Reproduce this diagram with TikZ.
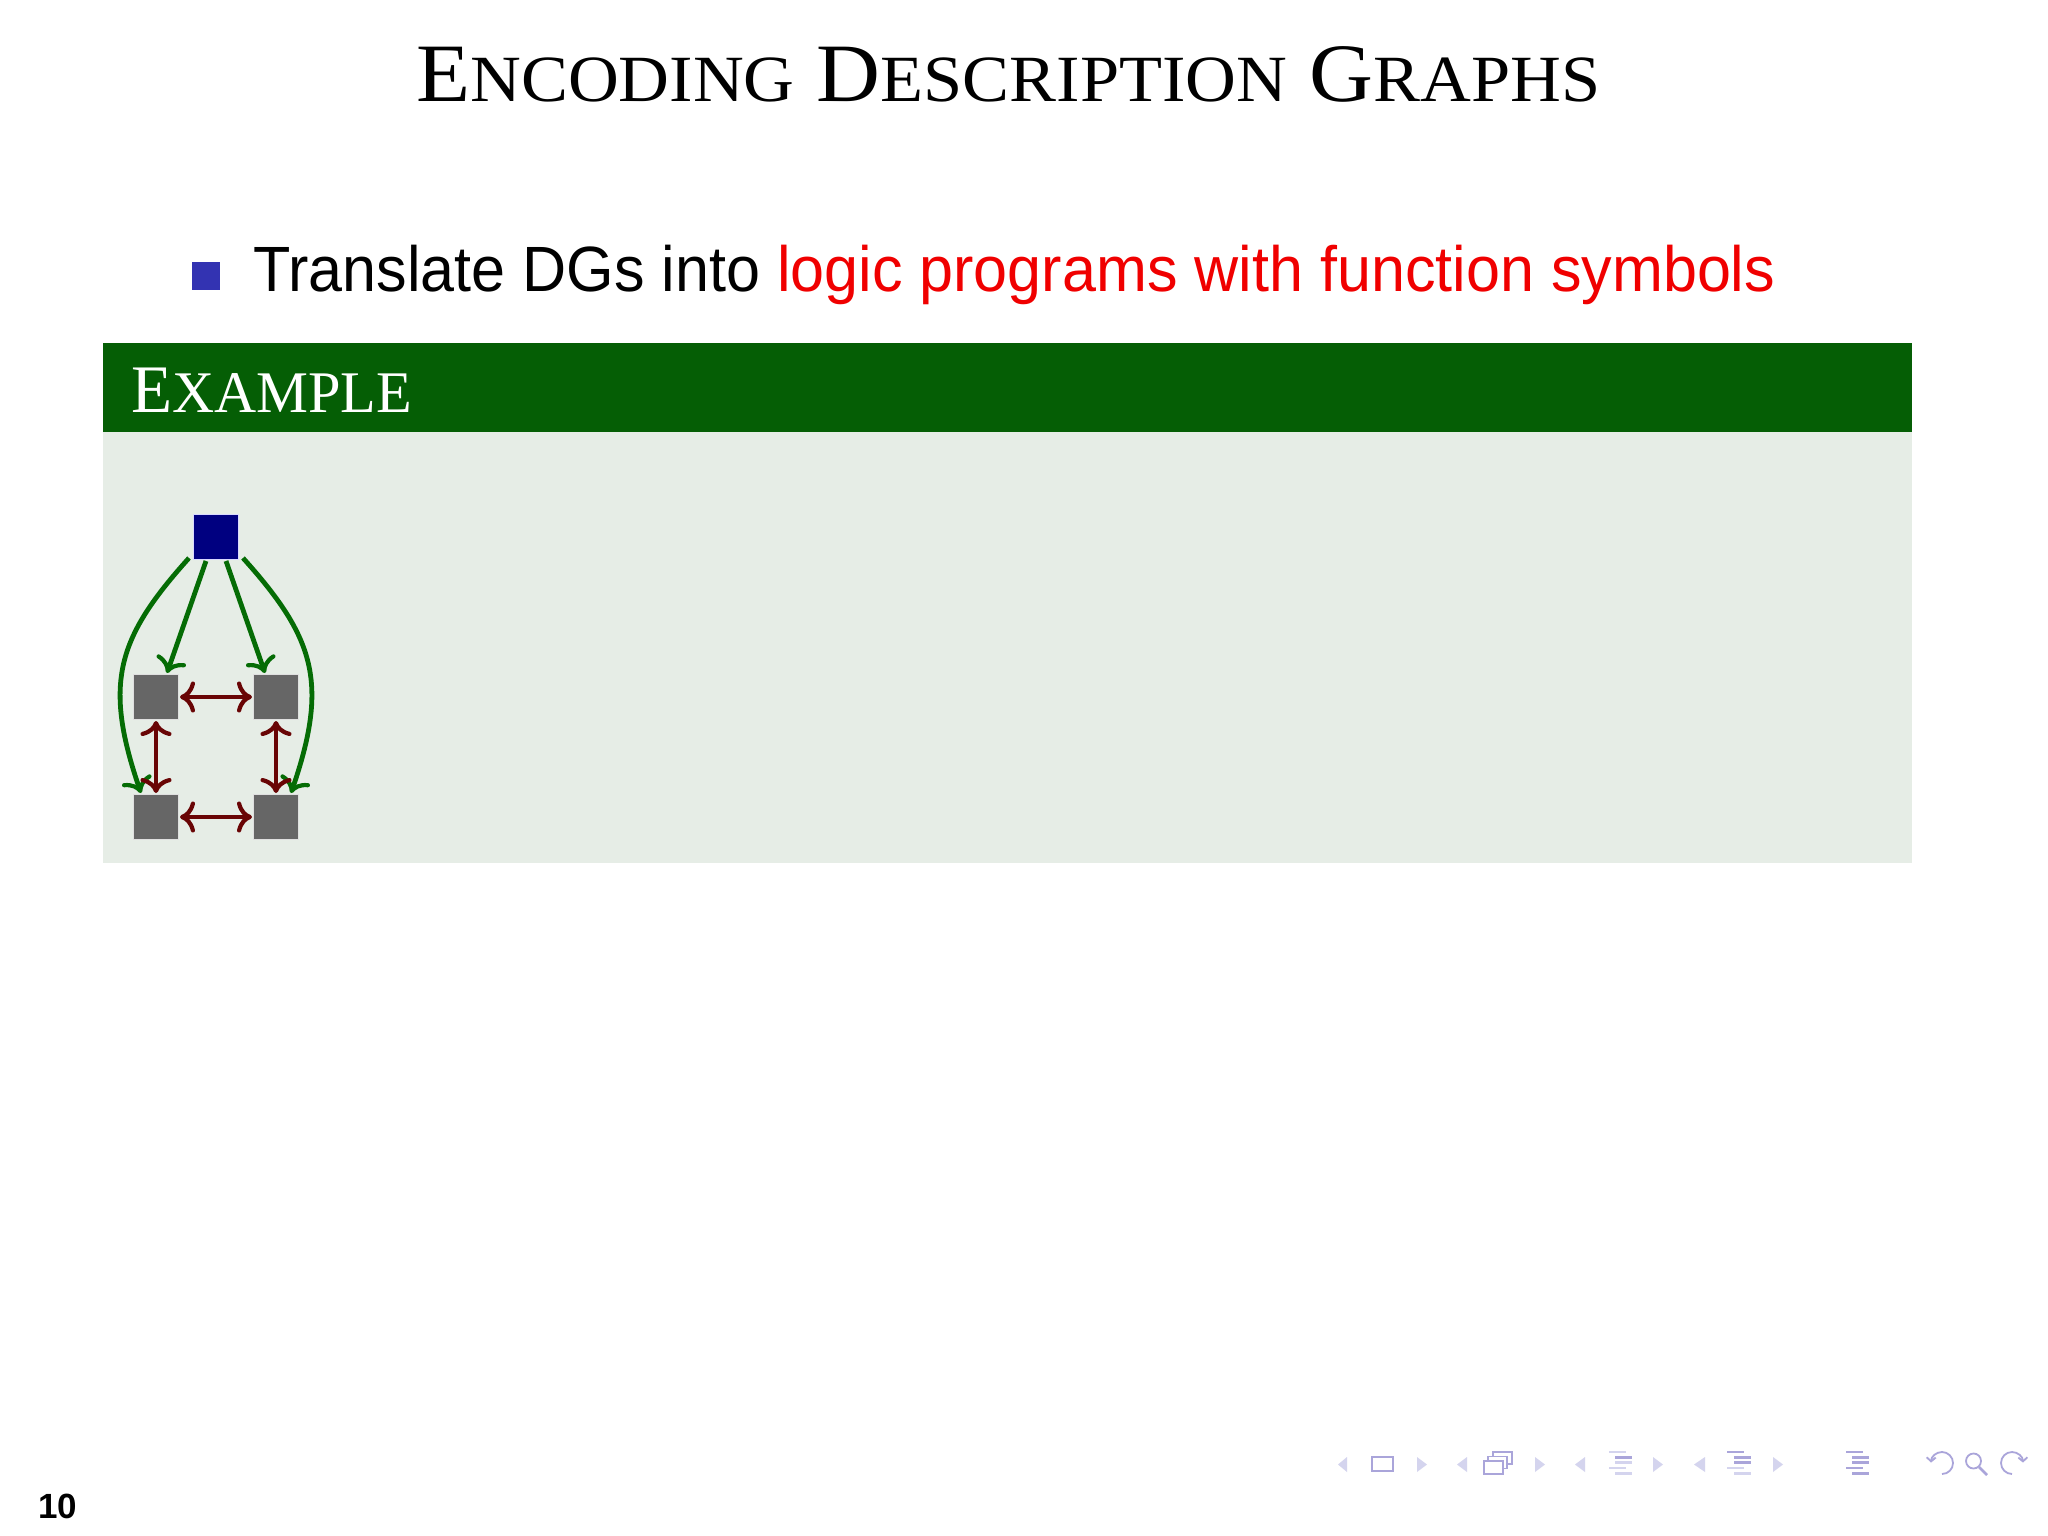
\documentclass[tikz,border=0pt]{standalone}
\usepackage{fontspec}
\usepackage{graphicx}
\setmainfont{Liberation Serif}
\setsansfont{Liberation Sans}
\usetikzlibrary{arrows.meta,calc}
\definecolor{bulletblue}{RGB}{51,51,178}
\definecolor{alertred}{RGB}{240,0,0}
\definecolor{blockhead}{RGB}{5,94,5}
\definecolor{blockbody}{RGB}{230,237,230}
\definecolor{navyfill}{RGB}{0,0,128}
\definecolor{grayfill}{RGB}{102,102,102}
\definecolor{arrgreen}{RGB}{5,108,5}
\definecolor{arrred}{RGB}{105,5,5}
\definecolor{navlight}{RGB}{212,212,238}
\definecolor{navdark}{RGB}{170,165,218}
\newcommand\myscA[1]{{\fontsize{66}{70}\selectfont #1}}
\newcommand\myscB[1]{{\fontsize{59}{60}\selectfont #1}}
\tikzset{
  sq/.style={minimum size=45pt, inner sep=0pt, outer sep=1.5pt, draw=white!75!gray, line width=1pt},
  dgroot/.style={sq, fill=navyfill, draw=blue!15!white},
  dgnode/.style={sq, fill=grayfill},
  mytip/.tip={Computer Modern Rightarrow[length=15pt,width=31pt,line width=4.2pt]},
  garr/.style={draw=arrgreen, line width=4.8pt, -mytip},
  rarr/.style={draw=arrred, line width=4.8pt, mytip-mytip},
  navtri/.style={fill=navlight},
  navicon/.style={draw=navdark, line width=1.8pt},
  navbar/.style={fill=navdark},
  navbarl/.style={fill=navlight},
  navtipd/.tip={Straight Barb[length=4pt,width=9pt,line width=1.8pt]},
}
\begin{document}
\begin{tikzpicture}[x=1pt,y=-1pt]
\useasboundingbox (0,0) rectangle (2048,1536);
\fill[white] (0,0) rectangle (2048,1536);
% title
\node[anchor=base west, inner sep=0pt, font=\fontsize{83}{90}\selectfont] (title) at (416,102)
  {\resizebox{1184pt}{\height}{E\myscA{NCODING} D\myscA{ESCRIPTION} G\myscA{RAPHS}}};
% bullet item
\node[fill=bulletblue, minimum size=28pt, inner sep=0pt] (bullet) at (205.5,275.5) {};
\node[anchor=base west, inner sep=0pt, font=\sffamily\fontsize{64}{70}\selectfont] (item) at (253,291)
  {\resizebox{1522pt}{\height}{Translate DGs into \textcolor{alertred}{logic programs with function symbols}}};
% block
\fill[blockhead] (103,343) rectangle (1912,432);
\fill[blockbody] (103,432) rectangle (1912,863);
\node[anchor=base west, inner sep=0pt, text=white, font=\fontsize{68}{75}\selectfont] (blocktitle) at (131,412)
  {\resizebox{281pt}{\height}{E\myscB{XAMPLE}}};
% graph
\node[dgroot] (root) at (216,537) {};
\node[dgnode] (tl) at (156,697) {};
\node[dgnode] (tr) at (276,697) {};
\node[dgnode] (bl) at (156,817) {};
\node[dgnode] (br) at (276,817) {};
\draw[garr] ([xshift=-10pt]root.south) -- ([xshift=11pt]tl.north);
\draw[garr] ([xshift=10pt]root.south) -- ([xshift=-11pt]tr.north);
\draw[garr] ([xshift=-3pt,yshift=3pt]root.south west) .. controls +(-72,80) and +(-38,-110) .. ([xshift=9pt]bl.north west);
\draw[garr] ([xshift=3pt,yshift=3pt]root.south east) .. controls +(72,80) and +(38,-110) .. ([xshift=-9pt]br.north east);
\draw[rarr] (tl) -- (tr);
\draw[rarr] (bl) -- (br);
\draw[rarr] (tl) -- (bl);
\draw[rarr] (tr) -- (br);
% page number
\node[anchor=base west, inner sep=0pt, font=\sffamily\bfseries\fontsize{35}{40}\selectfont] (pagenum) at (38,1518) {10};
% navigation symbols
\fill[navtri] (1347,1457) -- (1347,1472) -- (1338,1464.5) -- cycle;
\draw[navicon] (1372,1457) rectangle (1393,1471);
\fill[navtri] (1417,1457) -- (1417,1472) -- (1427,1464.5) -- cycle;
\fill[navtri] (1467,1457) -- (1467,1472) -- (1457,1464.5) -- cycle;
\draw[navicon, fill=white] (1493,1452) rectangle (1512,1464);
\draw[navicon, fill=white] (1488,1456.5) rectangle (1507,1468.5);
\draw[navicon, fill=white] (1484,1461) rectangle (1503,1474);
\fill[navtri] (1535,1457) -- (1535,1472) -- (1545,1464.5) -- cycle;
\fill[navtri] (1585,1457) -- (1585,1472) -- (1575,1464.5) -- cycle;
\fill[navbarl] (1609,1450.5) rectangle (1626,1453);
\fill[navbar] (1615,1455.5) rectangle (1632,1458.5);
\fill[navbarl] (1615,1461) rectangle (1632,1464);
\fill[navbarl] (1609,1466.5) rectangle (1626,1469);
\fill[navbarl] (1615,1472) rectangle (1632,1475);
\fill[navtri] (1653,1457) -- (1653,1472) -- (1663,1464.5) -- cycle;
\fill[navtri] (1705,1457) -- (1705,1472) -- (1694,1464.5) -- cycle;
\fill[navbar] (1727,1450.5) rectangle (1744,1453);
\fill[navbar] (1734,1455.5) rectangle (1751,1458.5);
\fill[navbar] (1734,1461) rectangle (1751,1464);
\fill[navbarl] (1727,1466.5) rectangle (1744,1469);
\fill[navbarl] (1734,1472) rectangle (1751,1475);
\fill[navtri] (1773,1457) -- (1773,1472) -- (1783,1464.5) -- cycle;
\fill[navbar] (1846,1450.5) rectangle (1863,1453);
\fill[navbar] (1852,1455.5) rectangle (1869,1458.5);
\fill[navbar] (1852,1461) rectangle (1869,1464);
\fill[navbar] (1846,1466.5) rectangle (1863,1469);
\fill[navbar] (1852,1472) rectangle (1869,1475);
% undo, search, redo
\draw[navicon, -navtipd] (1942,1474) arc[start angle=90, end angle=-178, radius=11];
\draw[navicon] (1973.5,1461) circle[radius=7.5];
\draw[navicon, line width=2.6pt] (1979,1467) -- (1987,1475);
\draw[navicon, -navtipd] (2012,1474) arc[start angle=90, end angle=358, radius=11];
\end{tikzpicture}
\end{document}
